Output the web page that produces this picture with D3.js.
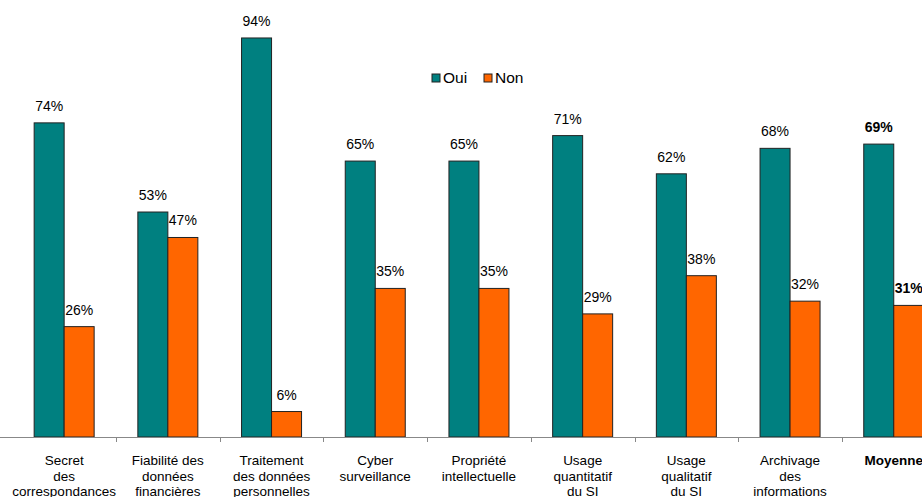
<!DOCTYPE html>
<html>
<head>
<meta charset="utf-8">
<script src="https://cdn.jsdelivr.net/npm/d3@7"></script>
<style>
  body { margin: 0; background: #fff; }
  svg { display: block; font-family: "Liberation Sans", Arial, sans-serif; }
</style>
</head>
<body>
<svg width="922" height="497"></svg>
<script>
// categories and values
const categories = [
    ["Secret", "des", "correspondances"],
    ["Fiabilité des", "données", "financières"],
    ["Traitement", "des données", "personnelles"],
    ["Cyber", "surveillance"],
    ["Propriété", "intellectuelle"],
    ["Usage", "quantitatif", "du SI"],
    ["Usage", "qualitatif", "du SI"],
    ["Archivage", "des", "informations"],
    ["Moyenne"]
];
const oui = [74, 53, 94, 65, 65, 71, 62, 68, 69];
const non = [26, 47, 6, 35, 35, 29, 38, 32, 31];
const seriesNames = ["Oui", "Non"];
const colors = ["#008080", "#ff6600"];

let svg = d3.select("svg"),
    width = +svg.attr("width"),
    height = +svg.attr("height");

const base = 437;
const idx = d3.range(categories.length);

let x = d3.scaleBand()
    .domain(idx)
    .range([12.3, 12.3 + 103.7 * categories.length])
    .paddingInner(0)
    .paddingOuter(0);

let x1 = d3.scaleBand()
    .domain([0, 1])
    .range([x.bandwidth() / 2 - 30, x.bandwidth() / 2 + 30]);

let y = d3.scaleLinear()
    .domain([0, 100])
    .range([base, base - 424.5]);

// bars
let groups = svg.append("g")
    .selectAll("g")
    .data(idx)
    .enter().append("g")
    .attr("transform", function (i) { return "translate(" + x(i) + ",0)"; });

groups.selectAll("rect")
    .data(function (i) { return [oui[i], non[i]]; })
    .enter().append("rect")
    .attr("x", function (d, j) { return x1(j); })
    .attr("y", function (d) { return y(d); })
    .attr("width", x1.bandwidth())
    .attr("height", function (d) { return base - y(d); })
    .attr("fill", function (d, j) { return colors[j]; })
    .attr("stroke", "#222")
    .attr("stroke-width", 1);

groups.selectAll("text.val")
    .data(function (i) { return [oui[i], non[i]].map(function (v) { return {v: v, last: i === categories.length - 1}; }); })
    .enter().append("text")
    .attr("class", "val")
    .attr("x", function (d, j) { return x1(j) + x1.bandwidth() / 2; })
    .attr("y", function (d) { return y(d.v) - 12; })
    .attr("text-anchor", "middle")
    .attr("font-size", 14)
    .attr("font-weight", function (d) { return d.last ? "bold" : "normal"; })
    .attr("fill", "#000")
    .text(function (d) { return d.v + "%"; });

// axis
svg.append("line")
    .attr("x1", 0).attr("x2", width)
    .attr("y1", base + 0.5).attr("y2", base + 0.5)
    .attr("stroke", "#888");

svg.append("g")
    .selectAll("line")
    .data(idx.slice(1))
    .enter().append("line")
    .attr("x1", function (i) { return Math.round(x(i)) + 0.5; })
    .attr("x2", function (i) { return Math.round(x(i)) + 0.5; })
    .attr("y1", base)
    .attr("y2", base + 5)
    .attr("stroke", "#888");

// category labels
let labels = svg.append("g")
    .selectAll("text")
    .data(idx)
    .enter().append("text")
    .attr("x", function (i) { return x(i) + x.bandwidth() / 2; })
    .attr("y", 465)
    .attr("text-anchor", "middle")
    .attr("font-size", 13.5)
    .attr("font-weight", function (i) { return i === categories.length - 1 ? "bold" : "normal"; });

labels.selectAll("tspan")
    .data(function (i) { return categories[i]; })
    .enter().append("tspan")
    .attr("x", function () { const i = d3.select(this.parentNode).datum(); return x(i) + x.bandwidth() / 2; })
    .attr("dy", function (d, k) { return k === 0 ? 0 : 15.5; })
    .text(function (d) { return d; });

// legend
let legend = svg.append("g");
const legX = [432, 484];
seriesNames.forEach(function (name, j) {
    legend.append("rect")
        .attr("x", legX[j]).attr("y", 74)
        .attr("width", 8).attr("height", 8)
        .attr("fill", colors[j])
        .attr("stroke", "#222");
    legend.append("text")
        .attr("x", legX[j] + 11).attr("y", 83)
        .attr("font-size", 15.5)
        .text(name);
});
</script>
</body>
</html>
